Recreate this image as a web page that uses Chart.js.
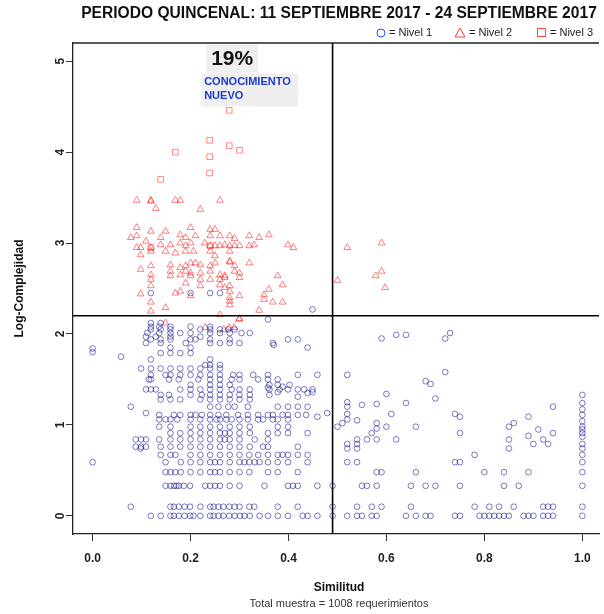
<!DOCTYPE html>
<html>
<head>
<meta charset="utf-8">
<script src="https://cdn.jsdelivr.net/npm/chart.js@4.4.1/dist/chart.umd.min.js"></script>
<style>
  html, body { margin: 0; padding: 0; background: #fff; overflow: hidden; }
  #wrap { width: 604px; height: 614px; }
</style>
</head>
<body>
<div id="wrap"><canvas id="grafico" width="604" height="614"></canvas></div>
<script>
const xTicks = [0, 0.2, 0.4, 0.6, 0.8, 1.0];
const yTicks = [0, 1, 2, 3, 4, 5];
const umbralX = 0.49;
const umbralY = 2.2;
const porcentaje = '19%';
const etiquetaZona = ['CONOCIMIENTO', 'NUEVO'];
const titulo = 'PERIODO QUINCENAL: 11 SEPTIEMBRE 2017 - 24 SEPTIEMBRE 2017';
const subtitulo = 'Total muestra = 1008 requerimientos';

// Nivel 1: filas de complejidad discreta [y, [similitudes]]
const nivel1Bajos = [
    [0, [0.119, 0.139, 0.159, 0.166, 0.176, 0.188, 0.199, 0.206, 0.22, 0.24, 0.247, 0.257, 0.267, 0.279, 0.29, 0.301, 0.31, 0.321, 0.341, 0.358, 0.378, 0.399, 0.429, 0.439, 0.459, 0.49, 0.52, 0.54, 0.55, 0.57, 0.58, 0.64, 0.66, 0.68, 0.69, 0.74, 0.75, 0.79, 0.80, 0.81, 0.82, 0.83, 0.84, 0.85, 0.88, 0.89, 0.90, 0.92, 0.93, 0.94, 1.0]],
    [0.1, [0.078, 0.159, 0.166, 0.176, 0.188, 0.199, 0.22, 0.24, 0.247, 0.257, 0.267, 0.279, 0.29, 0.30, 0.32, 0.33, 0.378, 0.419, 0.49, 0.54, 0.57, 0.59, 0.65, 0.78, 0.81, 0.83, 0.86, 0.92, 0.93, 0.94, 1.0]],
    [0.33, [0.149, 0.159, 0.166, 0.171, 0.176, 0.186, 0.199, 0.23, 0.24, 0.25, 0.26, 0.28, 0.30, 0.351, 0.399, 0.409, 0.419, 0.459, 0.49, 0.55, 0.56, 0.58, 0.65, 0.68, 0.70, 0.75, 0.84, 0.87, 1.0]],
    [0.48, [0.149, 0.159, 0.169, 0.18, 0.2, 0.22, 0.24, 0.25, 0.26, 0.28, 0.30, 0.32, 0.358, 0.378, 0.419, 0.58, 0.59, 0.66, 0.80, 0.84, 0.89, 1.0]],
    [0.59, [0.0, 0.149, 0.18, 0.2, 0.22, 0.24, 0.25, 0.26, 0.28, 0.30, 0.31, 0.32, 0.331, 0.341, 0.358, 0.378, 0.399, 0.439, 0.52, 0.54, 0.74, 0.75, 1.0]],
    [0.67, [0.139, 0.159, 0.169, 0.2, 0.22, 0.24, 0.26, 0.28, 0.30, 0.32, 0.338, 0.358, 0.378, 0.388, 0.399, 0.419, 0.439, 0.78, 1.0]]
];

const nivel1Altos = [
    [0.76, [0.088, 0.099, 0.109, 0.139, 0.159, 0.179, 0.2, 0.22, 0.24, 0.26, 0.28, 0.30, 0.321, 0.348, 0.358, 0.419]],
    [0.84, [0.088, 0.099, 0.109, 0.136, 0.159, 0.179, 0.2, 0.22, 0.24, 0.26, 0.27, 0.28, 0.30, 0.331, 0.358, 0.54, 0.56, 0.58, 0.62, 0.85, 0.92]],
    [0.91, [0.159, 0.179, 0.2, 0.22, 0.24, 0.26, 0.27, 0.28, 0.30, 0.321, 0.358, 0.378, 0.399, 0.439, 0.57, 0.75, 0.94, 1.0]],
    [0.98, [0.136, 0.159, 0.2, 0.22, 0.24, 0.26, 0.28, 0.30, 0.321, 0.378, 0.399, 0.50, 0.60, 0.66, 0.85, 1.0]],
    [1.06, [0.136, 0.149, 0.159, 0.173, 0.2, 0.22, 0.24, 0.253, 0.26, 0.273, 0.284, 0.30, 0.317, 0.338, 0.348, 0.368, 0.378, 0.399, 0.52]],
    [1.11, [0.136, 0.166, 0.179, 0.2, 0.21, 0.223, 0.24, 0.257, 0.273, 0.297, 0.317, 0.338, 0.358, 0.368, 0.388, 0.399, 0.419, 0.436, 1.0]],
    [1.2, [0.078, 0.24, 0.257, 0.277, 0.29, 0.317, 0.378, 0.399, 0.419, 0.439, 0.52, 0.94]],
    [1.28, [0.139, 0.159, 0.179, 0.22, 0.24, 0.26, 0.28, 0.30, 0.321]],
    [1.33, [0.139, 0.156, 0.2, 0.223, 0.24, 0.26, 0.28, 0.30, 0.321, 0.361, 1.0]],
    [1.39, [0.109, 0.119, 0.129, 0.179, 0.2, 0.22, 0.24, 0.26, 0.284, 0.30, 0.321, 0.361, 0.382, 0.399, 0.419, 0.432, 0.449]],
    [1.44, [0.2, 0.24, 0.26, 0.28, 0.361, 0.378, 0.402]],
    [1.5, [0.115, 0.119, 0.156, 0.176, 0.216, 0.24, 0.26, 0.284, 0.30, 0.338, 0.358, 0.378]],
    [1.55, [0.119, 0.149, 0.159, 0.179, 0.2, 0.22, 0.24, 0.26, 0.287, 0.30, 0.328, 0.358, 0.419, 0.459, 0.52]],
    [1.62, [0.099, 0.119, 0.139, 0.159, 0.179, 0.2, 0.22, 0.24, 0.26]],
    [1.66, [0.23, 0.24, 0.26]],
    [1.72, [0.119, 0.24]],
    [1.79, [0.139, 0.159, 0.179, 0.2]],
    [1.85, [0.159, 0.2, 0.439]],
    [1.9, [0.109, 0.139, 0.19, 0.24, 0.26, 0.28, 0.30, 0.368]],
    [1.94, [0.119, 0.139, 0.159, 0.2, 0.21, 0.24, 0.28, 0.399, 0.419]],
    [1.97, [0.109, 0.129, 0.159, 0.22]],
    [2.01, [0.112, 0.136, 0.159, 0.179, 0.2, 0.24, 0.26, 0.28, 0.304, 0.321]],
    [2.05, [0.119, 0.139, 0.159, 0.22, 0.24, 0.26, 0.277, 0.29]],
    [2.08, [0.119, 0.136, 0.159, 0.2, 0.24]],
    [2.12, [0.119, 0.139]],
    [2.45, [0.119, 0.2, 0.24, 0.26]]
];

// Nivel 1: puntos sueltos [x, y]
const nivel1Sueltos = [
    [0.098, 0.74], [0.52, 0.74], [0.54, 0.74], [0.85, 0.74], [1.0, 0.74],
    [0.52, 0.79], [0.54, 0.79], [0.90, 0.79], [0.93, 0.79], [1.0, 0.79],
    [0.89, 0.88], [1.0, 0.87], [0.58, 0.96], [0.91, 0.95], [1.0, 0.95],
    [0.51, 1.02], [0.58, 1.02], [0.86, 1.02], [0.54, 1.05], [1.0, 1.04],
    [0.459, 1.09], [0.75, 1.09], [0.89, 1.09], [0.52, 1.12], [0.61, 1.12], [0.74, 1.12],
    [0.109, 1.13], [0.479, 1.13], [1.0, 1.17],
    [0.52, 1.25], [0.55, 1.22], [0.58, 1.23], [0.64, 1.24], [1.0, 1.24],
    [0.70, 1.29], [0.419, 1.31], [0.60, 1.34],
    [0.378, 1.36], [0.439, 1.35], [0.449, 1.36], [0.358, 1.41], [0.388, 1.42],
    [0.69, 1.45], [0.68, 1.48], [0.72, 1.58],
    [0.058, 1.75], [0.0, 1.8], [0.0, 1.84], [0.37, 1.88],
    [0.59, 1.95], [0.72, 1.95], [0.62, 1.99], [0.64, 1.99], [0.73, 2.01],
    [0.358, 2.16], [0.449, 2.27]
];

// Nivel 2 [x, y]
const nivel2 = [
    [0.09, 3.47], [0.119, 3.47], [0.119, 3.46], [0.129, 3.38], [0.169, 3.47], [0.179, 3.47], [0.22, 3.37], [0.26, 3.47],
    [0.09, 3.17], [0.119, 3.13], [0.149, 3.13], [0.2, 3.17], [0.24, 3.15], [0.25, 3.15],
    [0.078, 3.06], [0.09, 3.08], [0.109, 3.02], [0.139, 3.06], [0.179, 3.09], [0.19, 3.06], [0.21, 3.08],
    [0.24, 3.08], [0.26, 3.08], [0.28, 3.08], [0.29, 3.05], [0.32, 3.08], [0.34, 3.06], [0.36, 3.09],
    [0.09, 2.95], [0.098, 2.95], [0.119, 2.95], [0.139, 2.98], [0.159, 2.98], [0.179, 3.0], [0.19, 2.97],
    [0.2, 3.0], [0.229, 3.0], [0.24, 2.97], [0.25, 2.97], [0.26, 2.97], [0.27, 2.98], [0.28, 2.97],
    [0.29, 2.97], [0.30, 2.97], [0.32, 2.97], [0.33, 2.98], [0.399, 2.98], [0.41, 2.95],
    [0.098, 2.87], [0.119, 2.91], [0.149, 2.91], [0.169, 2.89], [0.19, 2.91], [0.206, 2.91], [0.24, 2.91],
    [0.25, 2.86], [0.28, 2.91],
    [0.159, 2.76], [0.179, 2.73], [0.19, 2.75], [0.2, 2.78], [0.21, 2.78], [0.22, 2.76], [0.24, 2.75],
    [0.25, 2.78], [0.28, 2.8], [0.28, 2.79], [0.29, 2.75], [0.32, 2.78],
    [0.098, 2.71], [0.119, 2.75], [0.159, 2.69], [0.179, 2.65], [0.19, 2.69], [0.2, 2.67], [0.22, 2.67],
    [0.24, 2.69], [0.26, 2.65], [0.27, 2.64], [0.29, 2.69], [0.30, 2.67],
    [0.119, 2.65], [0.159, 2.64], [0.2, 2.64], [0.22, 2.6], [0.24, 2.6], [0.26, 2.6], [0.27, 2.62],
    [0.30, 2.62], [0.378, 2.64],
    [0.119, 2.6], [0.19, 2.56], [0.22, 2.53], [0.26, 2.54], [0.27, 2.51], [0.28, 2.53], [0.388, 2.54],
    [0.119, 2.53], [0.098, 2.44], [0.169, 2.45], [0.179, 2.47], [0.2, 2.42], [0.28, 2.47], [0.28, 2.4],
    [0.30, 2.42], [0.35, 2.43], [0.36, 2.49],
    [0.119, 2.35], [0.149, 2.29], [0.28, 2.36], [0.28, 2.32], [0.35, 2.38], [0.368, 2.35], [0.388, 2.35],
    [0.119, 2.25], [0.26, 2.21], [0.34, 2.26], [0.30, 2.17],
    [0.149, 2.12], [0.23, 2.07], [0.268, 2.05], [0.279, 2.07], [0.289, 2.07], [0.299, 2.16],
    [0.5, 2.59], [0.52, 2.95], [0.59, 3.0], [0.578, 2.64], [0.59, 2.69], [0.597, 2.51]
];

// Nivel 3 [x, y]
const nivel3 = [
    [0.279, 4.46], [0.239, 4.13], [0.279, 4.07], [0.3, 4.02], [0.169, 4.0],
    [0.239, 3.95], [0.239, 3.77], [0.139, 3.7], [0.119, 2.95], [0.24, 2.97]
];

const puntosNivel1 = [];
nivel1Bajos.concat(nivel1Altos).forEach(([yv, xs]) => {
    xs.forEach(xv => puntosNivel1.push({ x: xv, y: yv }));
});
nivel1Sueltos.forEach(([xv, yv]) => puntosNivel1.push({ x: xv, y: yv }));
const puntosNivel2 = nivel2.map(([xv, yv]) => ({ x: xv, y: yv }));
const puntosNivel3 = nivel3.map(([xv, yv]) => ({ x: xv, y: yv }));

const FUENTE = "'Liberation Sans', Arial, Helvetica, sans-serif";
Chart.defaults.font.family = FUENTE;

const textos = {
    id: 'textos',
    afterDatasetsDraw(chart) {
        const { ctx, chartArea: a, scales: { x, y } } = chart;
        ctx.save();

        // lineas de umbral
        const ux = x.getPixelForValue(umbralX);
        const uy = y.getPixelForValue(umbralY);
        ctx.strokeStyle = '#000';
        ctx.lineWidth = 1.6;
        ctx.beginPath();
        ctx.moveTo(a.left, uy); ctx.lineTo(a.right, uy);
        ctx.moveTo(ux, a.top); ctx.lineTo(ux, a.bottom);
        ctx.stroke();

        // borde superior del marco
        ctx.strokeStyle = '#222';
        ctx.lineWidth = 1.3;
        ctx.beginPath();
        ctx.moveTo(a.left, a.top); ctx.lineTo(a.right, a.top);
        ctx.stroke();

        // recuadro del porcentaje
        const ax = x.getPixelForValue(0.285);
        const ay = y.getPixelForValue(5.03);
        ctx.fillStyle = '#efefef';
        ctx.fillRect(ax - 26, ay - 14, 52, 28);
        ctx.fillRect(ax - 31, ay + 15, 97, 33);
        ctx.fillStyle = '#111';
        ctx.font = `bold 21px ${FUENTE}`;
        ctx.textAlign = 'center';
        ctx.textBaseline = 'middle';
        ctx.fillText(porcentaje, ax, ay + 1);
        ctx.fillStyle = '#1c3bd4';
        ctx.font = `bold 11px ${FUENTE}`;
        ctx.textAlign = 'left';
        ctx.fillText(etiquetaZona[0], ax - 28, ay + 24);
        ctx.fillText(etiquetaZona[1], ax - 28, ay + 38);

        // etiquetas del eje y (giradas)
        ctx.fillStyle = '#222';
        ctx.font = `bold 12px ${FUENTE}`;
        ctx.textAlign = 'center';
        yTicks.forEach(v => {
            ctx.save();
            ctx.translate(61, y.getPixelForValue(v));
            ctx.rotate(-Math.PI / 2);
            ctx.fillText(String(v), 0, 0);
            ctx.restore();
        });

        // titulos de ejes
        ctx.fillStyle = '#111';
        ctx.save();
        ctx.translate(20, (a.top + a.bottom) / 2);
        ctx.rotate(-Math.PI / 2);
        ctx.fillText('Log-Complejidad', 0, 0);
        ctx.restore();
        ctx.fillText('Similitud', 339, 588);
        ctx.font = `11px ${FUENTE}`;
        ctx.fillStyle = '#333';
        ctx.fillText(subtitulo, 339, 604);

        // titulo
        ctx.fillStyle = '#111';
        ctx.font = `bold 15.6px ${FUENTE}`;
        ctx.fillText(titulo, 339, 14);

        // leyenda
        ctx.font = `11px ${FUENTE}`;
        ctx.textAlign = 'left';
        ctx.fillStyle = '#222';
        ctx.lineWidth = 1;
        ctx.strokeStyle = '#3050ff';
        ctx.beginPath(); ctx.arc(381, 33, 4, 0, Math.PI * 2); ctx.stroke();
        ctx.fillText('= Nivel 1', 389, 33);
        ctx.strokeStyle = '#ff3b3b';
        ctx.beginPath();
        ctx.moveTo(460, 28); ctx.lineTo(465, 37); ctx.lineTo(455, 37); ctx.closePath();
        ctx.stroke();
        ctx.fillText('= Nivel 2', 469, 33);
        ctx.strokeStyle = '#ff4a3a';
        ctx.strokeRect(537.5, 28.5, 8, 8);
        ctx.fillText('= Nivel 3', 550, 33);

        ctx.restore();
    }
};

new Chart(document.getElementById('grafico'), {
    type: 'scatter',
    data: {
        datasets: [{
            label: 'Nivel 1',
            data: puntosNivel1,
            pointStyle: 'circle',
            pointRadius: 2.85,
            pointBorderWidth: 1,
            borderColor: 'rgba(0, 0, 139, 0.52)',
            backgroundColor: 'rgba(0, 0, 0, 0)'
        }, {
            label: 'Nivel 2',
            data: puntosNivel2,
            pointStyle: 'triangle',
            pointRadius: 3.9,
            pointBorderWidth: 1,
            borderColor: 'rgba(255, 0, 0, 0.5)',
            backgroundColor: 'rgba(0, 0, 0, 0)'
        }, {
            label: 'Nivel 3',
            data: puntosNivel3,
            pointStyle: 'rect',
            pointRadius: 4,
            pointBorderWidth: 1,
            borderColor: 'rgba(255, 20, 20, 0.5)',
            backgroundColor: 'rgba(0, 0, 0, 0)'
        }]
    },
    options: {
        responsive: false,
        animation: false,
        layout: { padding: { left: 12, top: 43, right: 0, bottom: 0 } },
        plugins: {
            legend: { display: false },
            tooltip: { enabled: false }
        },
        scales: {
            x: {
                type: 'linear',
                min: -0.04,
                max: 1.034,
                afterFit: s => { s.height = 80; },
                afterBuildTicks: s => { s.ticks = xTicks.map(v => ({ value: v })); },
                grid: { drawOnChartArea: false, drawTicks: true, tickLength: 7, color: '#333' },
                border: { display: true, color: '#222', width: 1.3 },
                ticks: {
                    autoSkip: false,
                    maxRotation: 0,
                    padding: 10,
                    color: '#222',
                    font: { size: 12, weight: 'bold' },
                    callback: v => Number(v).toFixed(1)
                }
            },
            y: {
                type: 'linear',
                min: -0.2,
                max: 5.2,
                afterFit: s => { s.width = 61; },
                afterBuildTicks: s => { s.ticks = yTicks.map(v => ({ value: v })); },
                grid: { drawOnChartArea: false, drawTicks: true, tickLength: 7, color: '#333' },
                border: { display: true, color: '#222', width: 1.3 },
                ticks: { display: false }
            }
        }
    },
    plugins: [textos]
});
</script>
</body>
</html>
